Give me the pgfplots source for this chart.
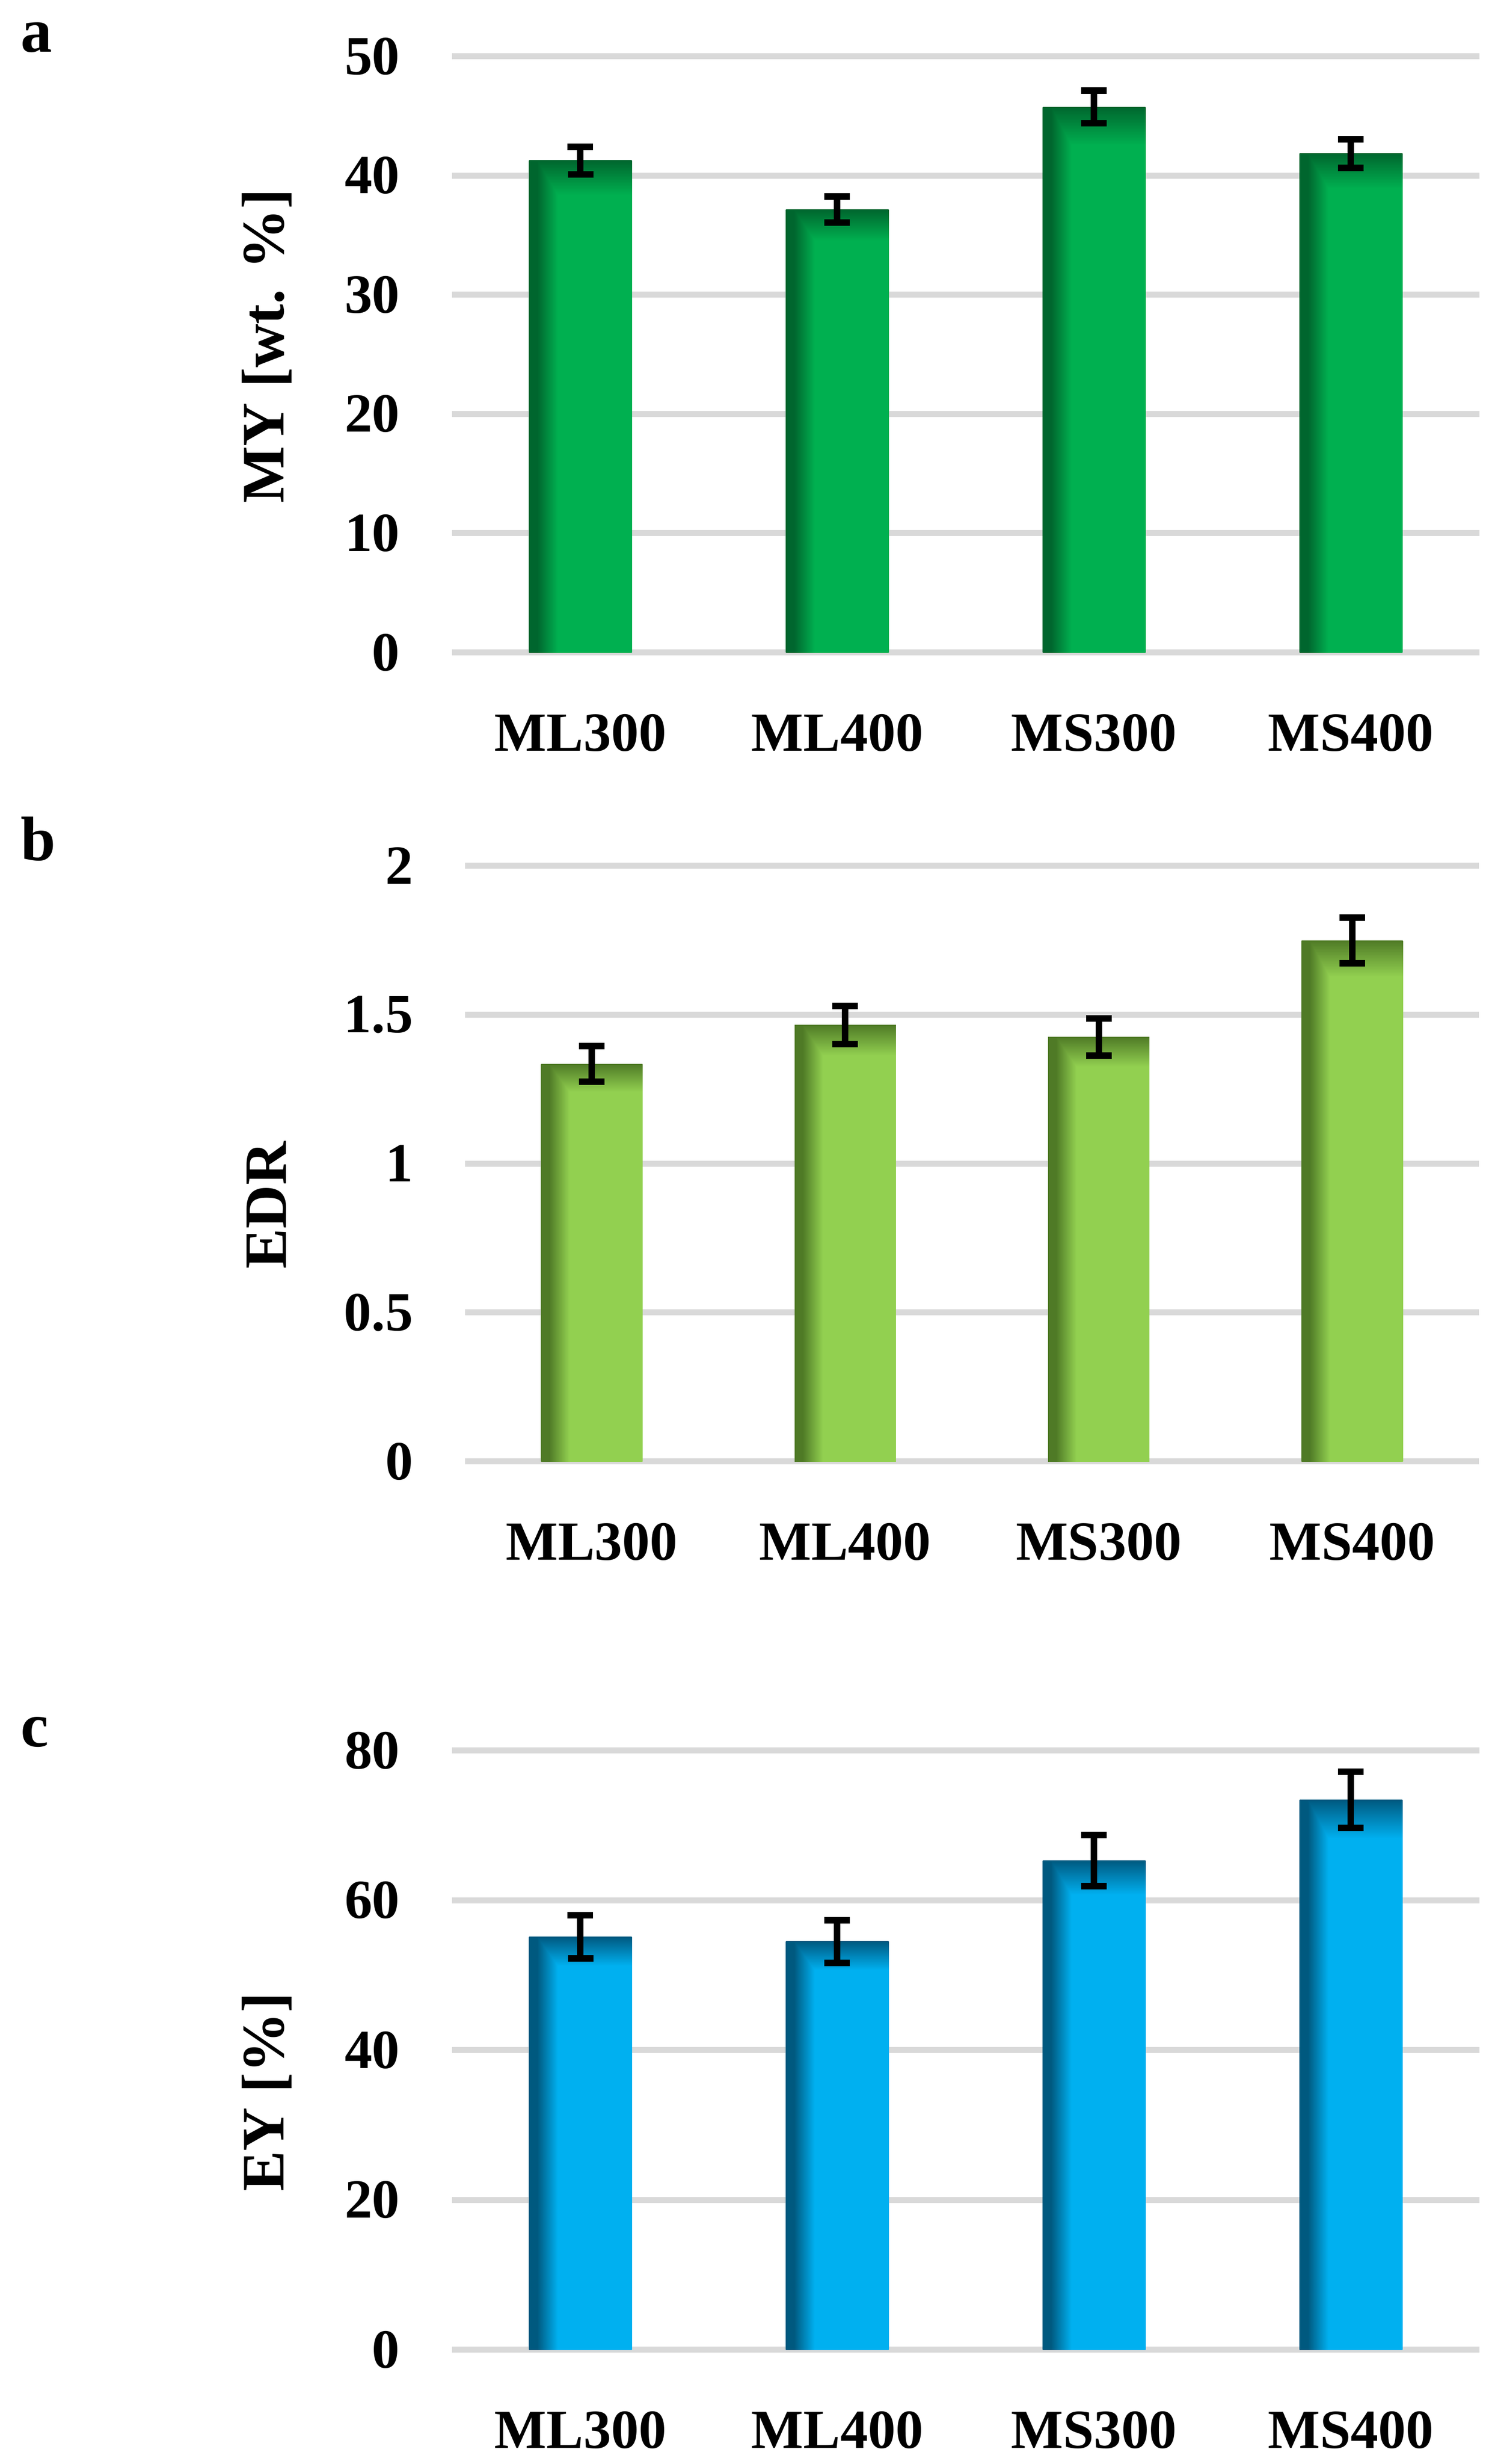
\documentclass[border=0pt]{standalone}
\usepackage{fontspec}
\setmainfont{Liberation Serif}
\usepackage{pgfplots}
\pgfplotsset{compat=1.18}

\definecolor{gridgray}{HTML}{D9D9D9}

% bar shadings: dark left edge and dark top edge fading into the main colour
% (stack: x y; the bar box maps to 25bp..75bp in both directions)
\pgfdeclarefunctionalshading{barA}{\pgfpointorigin}{\pgfpoint{100bp}{100bp}}{}{
  75 exch sub 50 div 0.07 div 1 exch sub 0 2 copy lt {exch} if pop
  exch 25 sub 50 div 0.28 exch sub 0.2 div 1 2 copy gt {exch} if pop 0 2 copy lt {exch} if pop
  2 copy lt {exch} if pop
  dup 0 mul 0 add exch dup -0.29 mul 0.69 add exch -0.134 mul 0.314 add
}
\pgfdeclarefunctionalshading{barB}{\pgfpointorigin}{\pgfpoint{100bp}{100bp}}{}{
  75 exch sub 50 div 0.07 div 1 exch sub 0 2 copy lt {exch} if pop
  exch 25 sub 50 div 0.28 exch sub 0.2 div 1 2 copy gt {exch} if pop 0 2 copy lt {exch} if pop
  2 copy lt {exch} if pop
  dup -0.263 mul 0.573 add exch dup -0.336 mul 0.816 add exch -0.164 mul 0.314 add
}
\pgfdeclarefunctionalshading{barC}{\pgfpointorigin}{\pgfpoint{100bp}{100bp}}{}{
  75 exch sub 50 div 0.07 div 1 exch sub 0 2 copy lt {exch} if pop
  exch 25 sub 50 div 0.28 exch sub 0.2 div 1 2 copy gt {exch} if pop 0 2 copy lt {exch} if pop
  2 copy lt {exch} if pop
  dup 0 mul 0 add exch dup -0.34 mul 0.69 add exch -0.441 mul 0.941 add
}

\pgfplotsset{
  panel/.style={
    scale only axis,
    anchor=north west,
    xmin=-0.5, xmax=3.5,
    axis line style={draw=none},
    tick style={draw=none},
    ymajorgrids,
    major grid style={line width=1.2pt, color=gridgray},
    xtick={0,1,2,3},
    xticklabels={ML300,ML400,MS300,MS400},
    ticklabel style={font=\fontsize{11}{13}\selectfont\bfseries},
    xticklabel style={anchor=center, yshift=-16pt},
    yticklabel style={anchor=east, inner sep=0pt, xshift=-10.2pt},
    ylabel style={font=\fontsize{12}{14}\selectfont\bfseries, anchor=center},
    clip=false,
  },
  % one \addplot per bar so that each bar gets its own shading
  bars/.style={
    ybar, bar width=0.4, bar shift=0pt, draw=none,
    error bars/y dir=both,
    error bars/y explicit,
    error bars/error bar style={line width=1.3pt, black},
    error bars/error mark options={rotate=90, mark size=2.55pt, line width=1.3pt, black},
  },
}

\begin{document}
\begin{tikzpicture}
  \useasboundingbox (0,0) rectangle (296.8pt,-491pt);

  % panel letters
  \node[anchor=base west, inner sep=0pt, font=\fontsize{12.5}{14}\selectfont\bfseries] at (4pt,-10.3pt) {a};
  \node[anchor=base west, inner sep=0pt, font=\fontsize{12.5}{14}\selectfont\bfseries] at (4pt,-171.4pt) {b};
  \node[anchor=base west, inner sep=0pt, font=\fontsize{12.5}{14}\selectfont\bfseries] at (4pt,-348pt) {c};

  % a: MY
  \begin{axis}[panel,
    at={(90.1pt,-11.2pt)}, width=204.8pt, height=118.8pt,
    ymin=0, ymax=50,
    ytick={0,10,20,30,40,50},
    yticklabels={0,10,20,30,40,50},
    ylabel={MY [wt. \%]},
    ylabel style={at={(axis description cs:-0.18,0.514)}},
  ]
    \addplot[bars, shading=barA] coordinates {(0,41.25) +- (0,1.15)};
    \addplot[bars, shading=barA] coordinates {(1,37.13) +- (0,1.10)};
    \addplot[bars, shading=barA] coordinates {(2,45.75) +- (0,1.35)};
    \addplot[bars, shading=barA] coordinates {(3,41.85) +- (0,1.20)};
  \end{axis}

  % b: EDR
  \begin{axis}[panel,
    at={(92.7pt,-172.5pt)}, width=202.1pt, height=118.7pt,
    ymin=0, ymax=2,
    ytick={0,0.5,1,1.5,2},
    yticklabels={0,0.5,1,1.5,2},
    ylabel={EDR},
    ylabel style={at={(axis description cs:-0.196,0.43)}},
  ]
    \addplot[bars, shading=barB] coordinates {(0,1.334) +- (0,0.060)};
    \addplot[bars, shading=barB] coordinates {(1,1.465) +- (0,0.064)};
    \addplot[bars, shading=barB] coordinates {(2,1.425) +- (0,0.062)};
    \addplot[bars, shading=barB] coordinates {(3,1.749) +- (0,0.077)};
  \end{axis}

  % c: EY
  \begin{axis}[panel,
    at={(90.1pt,-348.8pt)}, width=204.8pt, height=119.4pt,
    ymin=0, ymax=80,
    ytick={0,20,40,60,80},
    yticklabels={0,20,40,60,80},
    ylabel={EY [\%]},
    ylabel style={at={(axis description cs:-0.18,0.43)}},
  ]
    \addplot[bars, shading=barC] coordinates {(0,55.1) +- (0,2.90)};
    \addplot[bars, shading=barC] coordinates {(1,54.5) +- (0,2.85)};
    \addplot[bars, shading=barC] coordinates {(2,65.3) +- (0,3.40)};
    \addplot[bars, shading=barC] coordinates {(3,73.4) +- (0,3.75)};
  \end{axis}
\end{tikzpicture}
\end{document}
